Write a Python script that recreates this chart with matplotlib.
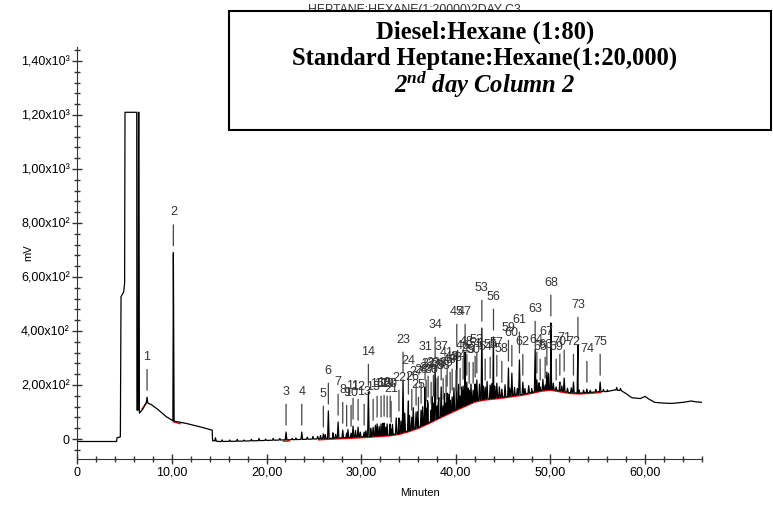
import numpy as np
import matplotlib.pyplot as plt
from matplotlib.patches import Rectangle

plt.rcParams['font.family'] = ['Liberation Sans', 'DejaVu Sans']
plt.rcParams['mathtext.fontset'] = 'custom'
plt.rcParams['mathtext.rm'] = 'Liberation Serif:italic:bold'
plt.rcParams['mathtext.it'] = 'Liberation Serif:italic:bold'

# valley line of the trace: solvent front + hump (min, mV)
base_t = [0.0, 4.15, 4.2, 4.55, 4.62, 4.9, 5.0, 5.04, 6.28, 6.3, 6.42, 6.46, 6.52, 6.56,
          6.9, 7.3, 7.8, 8.5, 9.4, 10.1, 10.25, 11.5, 13.0, 14.25, 14.3,
          15, 17, 19, 21, 23, 25, 27, 29, 31, 33, 34, 35, 36, 37, 38, 39, 40, 41,
          42, 43, 44, 45, 46, 47, 48, 49, 50, 51, 52, 53, 54, 55, 56, 56.8, 57.5,
          58.0, 58.6, 59.5, 60.0, 60.4, 61.0, 62.0, 62.8, 64.0, 64.9, 65.3, 66.0]
base_mv = [-9, -9, 5, 8, 527, 545, 577, 1210, 1210, 107, 107, 1210, 1210, 96,
           110, 136, 128, 110, 83, 68, 66, 58, 45, 33, -6,
           -9, -8, -6, -4, -2, 0, 3, 6, 10, 15, 20, 30, 42, 58, 75, 92, 108, 124,
           140, 147, 151, 155, 160, 165, 172, 180, 184, 178, 172, 170, 172, 175, 176, 182, 179,
           168, 153, 150, 158, 148, 136, 133, 132, 136, 141, 138, 136]

# labelled peaks: retention time (min) and apex (mV)
peak_no = list(range(1, 76))
peak_t = [7.37, 10.15, 22.06, 23.72, 26.00, 26.53, 27.56, 28.05, 28.46, 28.93,
          29.14, 29.67, 30.31, 30.76, 31.26, 31.68, 32.10, 32.42, 32.74, 33.06,
          33.16, 33.99, 34.42, 34.99, 36.05, 35.35, 35.80, 36.33, 36.86, 37.39,
          36.75, 37.07, 37.63, 37.81, 38.02, 38.13, 38.45, 38.66, 38.97, 39.40,
          39.08, 39.61, 40.03, 40.45, 40.10, 40.77, 40.98, 41.16, 41.41, 41.83,
          42.04, 42.22, 42.75, 43.10, 43.63, 43.98, 44.33, 44.86, 45.56, 45.92,
          46.72, 47.08, 48.38, 48.56, 48.91, 49.44, 49.62, 50.04, 50.60, 50.99,
          51.45, 52.43, 52.90, 53.85, 55.25]
peak_mv = [155, 690, 26, 26, 19, 104, 63, 33, 22, 22,
           48, 44, 26, 174, 44, 56, 56, 59, 56, 56,
           37, 78, 219, 141, 52, 81, 100, 107, 115, 107,
           193, 130, 133, 274, 122, 130, 193, 122, 133, 144,
           170, 156, 152, 159, 322, 196, 322, 211, 181, 181,
           204, 219, 411, 193, 200, 378, 207, 185, 263, 244,
           293, 211, 333, 219, 193, 200, 248, 430, 193, 211,
           226, 211, 348, 185, 211]

# unlabelled small peaks: time (min) and height above the valley line (mV)
minor_t = [14.6, 15.3, 16.1, 16.9, 17.6, 18.4, 19.2, 19.9, 20.7, 21.4, 22.7, 23.1,
           24.3, 24.9, 25.4, 25.7, 26.2, 27.0, 27.3, 28.6, 29.4, 29.9, 30.5, 31.0,
           31.5, 31.9, 32.3, 32.6, 33.3, 33.7, 34.2, 34.6, 35.1, 35.5, 36.0, 36.5,
           37.0, 37.5, 38.2, 38.8, 39.3, 39.8, 40.3, 40.6, 41.3, 41.6, 42.0, 42.5,
           42.9, 43.3, 43.8, 44.1, 44.6, 45.2, 45.7, 46.2, 46.5, 47.3, 47.7, 48.0,
           48.8, 49.2, 49.8, 50.3, 51.2, 51.8, 52.2, 53.0, 53.5, 54.2, 54.8, 55.6,
           56.0, 57.0, 57.4]
minor_h = [12, 6, 5, 7, 4, 6, 8, 5, 7, 6, 5, 6,
           8, 10, 9, 12, 15, 20, 14, 30, 25, 18, 22, 30,
           40, 35, 45, 30, 38, 60, 45, 70, 55, 80, 60, 70,
           85, 90, 75, 80, 70, 85, 90, 75, 60, 70, 55, 60,
           50, 65, 55, 45, 40, 45, 30, 30, 25, 20, 28, 15,
           30, 40, 60, 25, 20, 15, 18, 12, 10, 8, 10, 8,
           6, 10, 8]

# red integration baseline pieces (NaN = gap)
red_t = [6.85, 7.3, np.nan, 10.15, 10.85, np.nan, 21.8, 22.4, np.nan,
         25.5, 27, 29, 31, 33, 34, 35, 36, 37, 38, 39, 40, 41, 42, 43, 44, 45, 46,
         47, 48, 49, 50, 51, 52, 53, 54, 55.3]
red_mv = [112, 133, np.nan, 64, 57, np.nan, -8, -7, np.nan,
          -3, 0, 3, 7, 12, 17, 27, 39, 55, 72, 89, 105, 121, 137, 144, 148, 152, 157,
          162, 169, 177, 181, 175, 169, 167, 169, 172]

y_ticks = [0, 200, 400, 600, 800, 1000, 1200, 1400]
y_ticklabels = ['0', '2,00x10²', '4,00x10²', '6,00x10²', '8,00x10²',
                '1,00x10³', '1,20x10³', '1,40x10³']
x_ticks = [0, 10, 20, 30, 40, 50, 60]
x_ticklabels = ['0', '10,00', '20,00', '30,00', '40,00', '50,00', '60,00']

# build the trace from valley line + peaks
pts = list(zip(base_t, base_mv))
w = 0.08
for t, h in zip(peak_t, peak_mv):
    pts += [(t - w, np.interp(t - w, base_t, base_mv)), (t, h),
            (t + w, np.interp(t + w, base_t, base_mv))]
for t, h in zip(minor_t, minor_h):
    pts += [(t - w, np.interp(t - w, base_t, base_mv)),
            (t, np.interp(t, base_t, base_mv) + h),
            (t + w, np.interp(t + w, base_t, base_mv))]
pts.sort(key=lambda p: p[0])
trace_t = [p[0] for p in pts]
trace_mv = [p[1] for p in pts]

fig = plt.figure(figsize=(7.73, 5.05), dpi=100)
ax = fig.add_axes([0.1, 0.091, 0.808, 0.815])

ax.plot(red_t, red_mv, color='red', lw=1.0, zorder=2)
ax.plot(trace_t, trace_mv, color='black', lw=0.9, zorder=3)

for n, t, h in zip(peak_no, peak_t, peak_mv):
    ax.annotate('', xy=(t, h), xytext=(0, 20), textcoords='offset points',
                arrowprops=dict(arrowstyle='-', color='#444444', lw=0.9,
                                shrinkA=0, shrinkB=5))
    ax.annotate(str(n), xy=(t, h), xytext=(0, 29), textcoords='offset points',
                ha='center', va='center', fontsize=9, color='#333333')

ax.set_xlim(0, 66)
ax.set_ylim(-74, 1450)
ax.set_xticks(x_ticks)
ax.set_xticklabels(x_ticklabels)
ax.set_xticks(np.arange(0, 67, 2), minor=True)
ax.set_yticks(y_ticks)
ax.set_yticklabels(y_ticklabels)
ax.set_yticks(np.arange(-40, 1450, 40), minor=True)
ax.tick_params(which='major', direction='inout', length=7, width=1, color='#333333',
               labelsize=9, pad=2)
ax.tick_params(which='minor', direction='inout', length=4, width=1, color='#333333')
for s in ['top', 'right']:
    ax.spines[s].set_visible(False)
for s in ['left', 'bottom']:
    ax.spines[s].set_color('#333333')

fig.text(0.036, 0.5, 'mV', rotation=90, ha='center', va='center', fontsize=8)
fig.text(0.543, 0.024, 'Minuten', ha='center', va='center', fontsize=8)

fig.text(0.536, 0.992, 'HEPTANE:HEXANE(1:20000)2DAY C3', ha='center', va='top',
         fontsize=8.8, color='#333333', zorder=3)
fig.patches.append(Rectangle((0.296, 0.743), 0.701, 0.235, transform=fig.transFigure,
                             facecolor='white', edgecolor='black', lw=1.5, zorder=4))
serif = ['Liberation Serif', 'DejaVu Serif']
fig.text(0.627, 0.936, 'Diesel:Hexane (1:80)', ha='center', va='center', fontsize=17.7,
         weight='bold', family=serif, zorder=5)
fig.text(0.627, 0.885, 'Standard Heptane:Hexane(1:20,000)', ha='center', va='center',
         fontsize=17.7, weight='bold', family=serif, zorder=5)
fig.text(0.627, 0.834, r'$2^{nd}$ day Column 2', ha='center', va='center', fontsize=17.7,
         weight='bold', style='italic', family=serif, zorder=5)

fig.savefig('out.png', dpi=100)
